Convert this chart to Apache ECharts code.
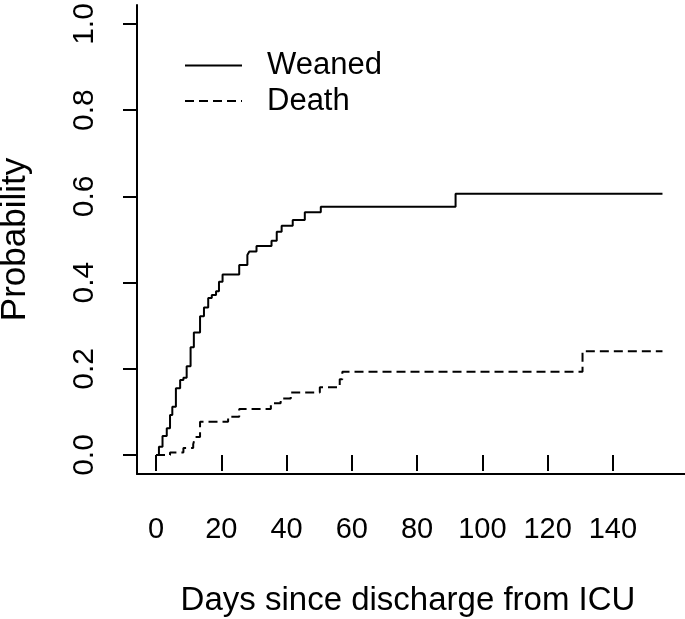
<!DOCTYPE html>
<html>
<head>
<meta charset="utf-8">
<script src="https://cdn.jsdelivr.net/npm/echarts@6/dist/echarts.min.js"></script>
<style>
  html, body { margin: 0; padding: 0; background: #ffffff; }
  #chart { width: 685px; height: 619px; }
</style>
</head>
<body>
<div id="chart"></div>
<script>
// ---- Data ----
const seriesNames = ['Weaned', 'Death'];

// [day, cumulative probability] — value holds until next step
const weaned = [
  [0, 0], [0.9, 0.019], [2.0, 0.044], [3.3, 0.062], [4.3, 0.093], [5.0, 0.112],
  [6.1, 0.155], [7.4, 0.174], [8.4, 0.179], [9.4, 0.206], [10.6, 0.250],
  [11.6, 0.284], [13.5, 0.322], [14.7, 0.342], [16.0, 0.364], [17.1, 0.371],
  [18.4, 0.380], [19.3, 0.402], [20.4, 0.419], [25.5, 0.441], [28.0, 0.464],
  [28.6, 0.472], [30.8, 0.485], [35.4, 0.497], [37.0, 0.518], [38.5, 0.532],
  [41.9, 0.545], [45.6, 0.563], [50.5, 0.576], [91.8, 0.606], [155.2, 0.606]
];

const death = [
  [0, 0], [4.3, 0.006], [8.4, 0.016], [11.4, 0.025], [12.0, 0.042],
  [13.5, 0.077], [22.1, 0.089], [25.5, 0.107], [35.2, 0.120], [38.2, 0.131],
  [41.3, 0.145], [50.2, 0.157], [56.3, 0.176], [57.1, 0.193], [130.7, 0.241],
  [155.2, 0.241]
];

const xTicks = [0, 20, 40, 60, 80, 100, 120, 140];
const yTicks = [0, 0.2, 0.4, 0.6, 0.8, 1.0];

const xTitle = 'Days since discharge from ICU';
const yTitle = 'Probability';

// ---- Chart ----
const FONT = '"Liberation Sans", Arial, Helvetica, sans-serif';
const chart = echarts.init(document.getElementById('chart'), null, { renderer: 'canvas' });

const X_MIN = -5.82, X_MAX = 162.1;
const Y_MIN = -0.0441, Y_MAX = 1.0441;

chart.setOption({
  animation: false,
  backgroundColor: '#ffffff',
  grid: { left: 137, right: 0, top: 5, bottom: 145, containLabel: false, outerBoundsMode: 'none' },
  legend: {
    orient: 'vertical',
    left: 179,
    top: 45,
    padding: 5,
    itemWidth: 57,
    itemHeight: 14,
    itemGap: 4.5,
    itemStyle: { opacity: 0 },
    textStyle: { fontFamily: FONT, fontSize: 31, color: '#000', padding: [0, 0, 0, 20] },
    data: seriesNames
  },
  xAxis: [
    {
      type: 'value', min: X_MIN, max: X_MAX, position: 'bottom',
      axisLine: { show: true, onZero: false, lineStyle: { color: '#000', width: 2 } },
      axisTick: { show: false }, axisLabel: { show: false }, splitLine: { show: false }
    },
    {
      type: 'value', min: X_MIN, max: X_MAX, position: 'bottom', offset: 3,
      axisLine: { show: false },
      axisTick: { show: true, length: 16, customValues: xTicks, lineStyle: { color: '#000', width: 2 } },
      axisLabel: { show: true, customValues: xTicks, margin: 38, fontFamily: FONT, fontSize: 29, color: '#000', hideOverlap: false },
      splitLine: { show: false },
      name: xTitle, nameLocation: 'middle', nameGap: 107,
      nameTextStyle: { fontFamily: FONT, fontSize: 33, color: '#000', padding: [0, 6, 0, 0] }
    }
  ],
  yAxis: {
    type: 'value', min: Y_MIN, max: Y_MAX,
    axisLine: { show: true, onZero: false, lineStyle: { color: '#000', width: 2 } },
    axisTick: { show: true, length: 14, customValues: yTicks, lineStyle: { color: '#000', width: 2 } },
    axisLabel: {
      show: true, customValues: yTicks, rotate: 90, margin: 37,
      fontFamily: FONT, fontSize: 30, color: '#000', hideOverlap: false,
      formatter: v => v.toFixed(1)
    },
    splitLine: { show: false },
    name: yTitle, nameLocation: 'middle', nameGap: 104, nameRotate: 90,
    nameTextStyle: { fontFamily: FONT, fontSize: 35, color: '#000' }
  },
  series: [
    {
      name: seriesNames[0], type: 'line', step: 'end', data: weaned,
      xAxisIndex: 0, yAxisIndex: 0, symbol: 'none',
      lineStyle: { color: '#000', width: 2, type: 'solid' },
      itemStyle: { color: '#000' }
    },
    {
      name: seriesNames[1], type: 'line', step: 'end', data: death,
      xAxisIndex: 0, yAxisIndex: 0, symbol: 'none',
      lineStyle: { color: '#000', width: 2, type: [9, 5] },
      itemStyle: { color: '#000' }
    }
  ]
});
</script>
</body>
</html>
